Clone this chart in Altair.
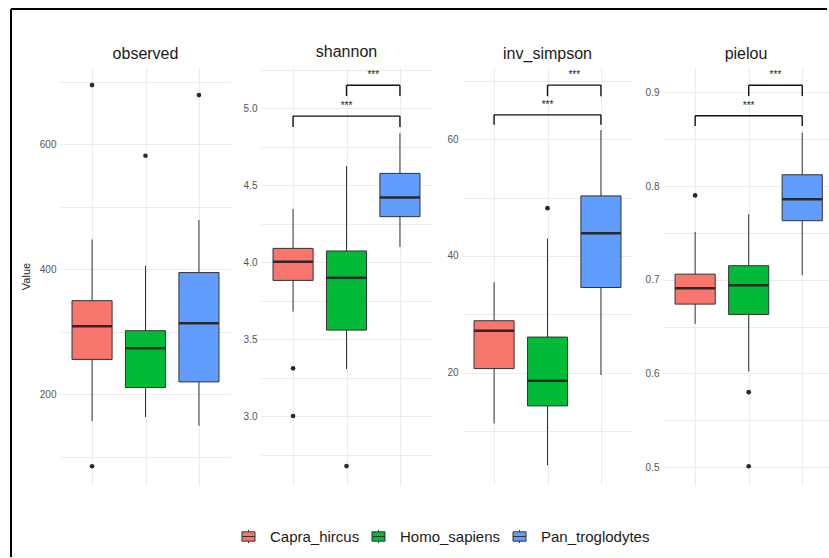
import altair as alt
import pandas as pd

FONT = "Liberation Sans"

species = ["Capra_hircus", "Homo_sapiens", "Pan_troglodytes"]
colors = ["#F8766D", "#00BA38", "#619CFF"]
metrics = ["observed", "shannon", "inv_simpson", "pielou"]

# box statistics, in species order: lower whisker, Q1, median, Q3, upper whisker
observed_lo = [157, 164, 150]
observed_q1 = [256, 211, 220]
observed_med = [309, 274, 314]
observed_q3 = [350, 302, 395]
observed_hi = [448, 406, 479]
observed_out = {"Capra_hircus": [695, 85], "Homo_sapiens": [582], "Pan_troglodytes": [679]}

shannon_lo = [3.68, 3.307, 4.10]
shannon_q1 = [3.883, 3.56, 4.297]
shannon_med = [4.004, 3.90, 4.422]
shannon_q3 = [4.091, 4.074, 4.578]
shannon_hi = [4.346, 4.626, 4.838]
shannon_out = {"Capra_hircus": [3.312, 3.002], "Homo_sapiens": [2.677], "Pan_troglodytes": []}

inv_simpson_lo = [11.3, 4.1, 19.6]
inv_simpson_q1 = [20.7, 14.3, 34.6]
inv_simpson_med = [27.2, 18.6, 43.9]
inv_simpson_q3 = [28.9, 26.1, 50.3]
inv_simpson_hi = [35.5, 43.0, 61.6]
inv_simpson_out = {"Capra_hircus": [], "Homo_sapiens": [48.2], "Pan_troglodytes": []}

pielou_lo = [0.653, 0.602, 0.705]
pielou_q1 = [0.674, 0.663, 0.763]
pielou_med = [0.691, 0.694, 0.786]
pielou_q3 = [0.706, 0.715, 0.812]
pielou_hi = [0.751, 0.770, 0.857]
pielou_out = {"Capra_hircus": [0.790], "Homo_sapiens": [0.580, 0.501], "Pan_troglodytes": []}

# significance brackets: from species index, to species index, bar level, tip level
bracket_from = [0, 1]
bracket_to = [2, 2]
bracket_label = ["***", "***"]
shannon_br_y = [4.95, 5.15]
shannon_br_tip = [4.88, 5.08]
inv_simpson_br_y = [64.2, 69.3]
inv_simpson_br_tip = [62.5, 67.4]
pielou_br_y = [0.875, 0.9075]
pielou_br_tip = [0.864, 0.896]

stats = {
    "observed": (observed_lo, observed_q1, observed_med, observed_q3, observed_hi, observed_out, None, None),
    "shannon": (shannon_lo, shannon_q1, shannon_med, shannon_q3, shannon_hi, shannon_out, shannon_br_y, shannon_br_tip),
    "inv_simpson": (inv_simpson_lo, inv_simpson_q1, inv_simpson_med, inv_simpson_q3, inv_simpson_hi, inv_simpson_out, inv_simpson_br_y, inv_simpson_br_tip),
    "pielou": (pielou_lo, pielou_q1, pielou_med, pielou_q3, pielou_hi, pielou_out, pielou_br_y, pielou_br_tip),
}

# axis settings
y_domain = {"observed": [55, 724], "shannon": [2.554, 5.269], "inv_simpson": [0.74, 72.4], "pielou": [0.481, 0.927]}
y_grid = {
    "observed": [100, 200, 300, 400, 500, 600, 700],
    "shannon": [2.75, 3.0, 3.25, 3.5, 3.75, 4.0, 4.25, 4.5, 4.75, 5.0, 5.25],
    "inv_simpson": [10, 20, 30, 40, 50, 60, 70],
    "pielou": [0.5, 0.55, 0.6, 0.65, 0.7, 0.75, 0.8, 0.85, 0.9],
}
y_labels = {
    "observed": [200, 400, 600],
    "shannon": [3.0, 3.5, 4.0, 4.5, 5.0],
    "inv_simpson": [20, 40, 60],
    "pielou": [0.5, 0.6, 0.7, 0.8, 0.9],
}
y_format = {"observed": "d", "shannon": ".1f", "inv_simpson": "d", "pielou": ".1f"}
panel_w = [171, 171, 171, 166]
x_domain = [[-0.6, 2.6], [-0.6, 2.6], [-0.6, 2.6], [-0.6, 2.5]]
PANEL_H = 418
BOX_W = 0.75

legend = alt.Legend(
    orient="none", legendX=212, legendY=462, direction="horizontal", title=None,
    symbolType="M-1,-0.72L1,-0.72L1,0.72L-1,0.72Z M-1,0L1,0 M0,-0.72L0,-1 M0,0.72L0,1",
    symbolSize=169, symbolStrokeColor="#333333", symbolStrokeWidth=1, symbolOpacity=1,
    labelFont=FONT, labelFontSize=15, labelColor="#1a1a1a", labelOffset=14, columnPadding=10,
)


def panel(m, k):
    lo, q1, med, q3, hi, outs, br_y, br_tip = stats[m]
    bdf = pd.DataFrame({"species": species, "pos": list(range(3)), "lo": lo, "q1": q1,
                        "med": med, "q3": q3, "hi": hi})
    orows = [{"species": s, "pos": i, "value": v} for i, s in enumerate(species) for v in outs[s]]
    odf = pd.DataFrame(orows, columns=["species", "pos", "value"])

    xs = alt.Scale(domain=x_domain[k], nice=False, zero=False)
    ys = alt.Scale(domain=y_domain[m], nice=False, zero=False)
    xax = alt.Axis(values=[0, 1, 2], labels=False, ticks=False, domain=False, grid=True, title=None)
    lab = "[" + ",".join(str(v) for v in y_labels[m]) + "]"
    yax = alt.Axis(values=y_grid[m], format=y_format[m],
                   labelExpr=f"indexof({lab}, datum.value) >= 0 ? datum.label : ''",
                   labelOverlap=False, ticks=False, domain=False, grid=True,
                   title="Value" if k == 0 else None, titleFont=FONT, titleFontSize=11,
                   titleFontWeight="normal", titleColor="#1a1a1a", titlePadding=8,
                   labelFont=FONT, labelFontSize=10, labelColor="#555555", labelPadding=4)

    def X(f):
        return alt.X(f, type="quantitative", scale=xs, axis=xax)

    def Y(f):
        return alt.Y(f, type="quantitative", scale=ys, axis=yax)

    base = alt.Chart(bdf).transform_calculate(
        left=f"datum.pos - {BOX_W / 2}", right=f"datum.pos + {BOX_W / 2}")
    whisk = base.mark_rule(color="#333333", strokeWidth=1).encode(x=X("pos"), y=Y("lo"), y2="hi")
    box = base.mark_bar(stroke="#333333", strokeWidth=1, opacity=1).encode(
        x=X("left"), x2="right", y=Y("q1"), y2="q3",
        fill=alt.Fill("species:N", scale=alt.Scale(domain=species, range=colors), legend=legend))
    median = base.mark_rule(color="#2a2a2a", strokeWidth=2.5).encode(x=X("left"), x2="right", y=Y("med"))
    layers = [whisk, box, median]
    if len(odf):
        layers.append(alt.Chart(odf).mark_circle(size=22, color="#2a2a2a", opacity=1).encode(
            x=X("pos"), y=Y("value")))
    if br_y is not None:
        brdf = pd.DataFrame({"a": bracket_from, "b": bracket_to, "y": br_y, "tip": br_tip,
                             "label": bracket_label})
        bb = alt.Chart(brdf)
        layers.append(bb.mark_rule(color="#111111", strokeWidth=1.4).encode(x=X("a"), x2="b", y=Y("y")))
        layers.append(bb.mark_rule(color="#111111", strokeWidth=1.4).encode(x=X("a"), y=Y("y"), y2="tip"))
        layers.append(bb.mark_rule(color="#111111", strokeWidth=1.4).encode(x=X("b"), y=Y("y"), y2="tip"))
        layers.append(bb.transform_calculate(mid="(datum.a + datum.b) / 2").mark_text(
            font=FONT, fontSize=10, color="#222222", baseline="alphabetic", dy=-7).encode(
            x=X("mid"), y=Y("y"), text="label:N"))
    return alt.layer(*layers).properties(
        width=panel_w[k], height=PANEL_H,
        title=alt.Title(m, font=FONT, fontSize=16, fontWeight="normal", color="#1a1a1a",
                        offset=5, anchor="middle"))


# decorative outer frame (top and left edges), placed in a narrow leading cell
frame_df = pd.DataFrame({"f": [0]})
fr = alt.Chart(frame_df)
frame = alt.layer(
    fr.mark_rule(color="#000000", strokeWidth=2).encode(
        x=alt.value(-18), y=alt.value(-58), y2=alt.value(490)),
    fr.mark_rule(color="#000000", strokeWidth=2).encode(
        x=alt.value(-18), x2=alt.value(798), y=alt.value(-58)),
).properties(width=1, height=PANEL_H)

chart = alt.hconcat(frame, *[panel(m, k) for k, m in enumerate(metrics)], spacing=30, bounds="flush").properties(
    padding={"left": 10, "top": 8, "right": 0, "bottom": 0}, background="white"
).configure_view(stroke=None).configure_axis(gridColor="#EBEBEB", gridWidth=1)

chart.save("out.html", embed_options={"renderer": "svg", "actions": False})
